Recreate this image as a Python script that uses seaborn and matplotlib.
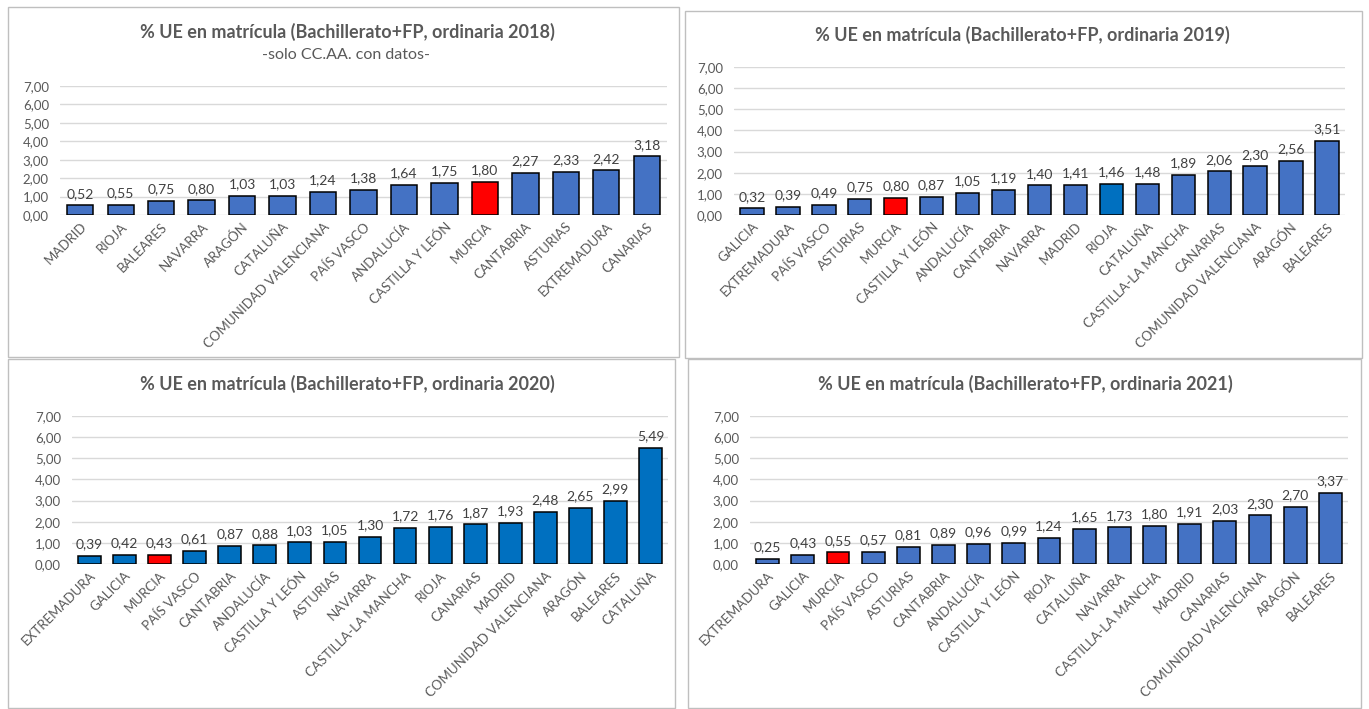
import matplotlib
matplotlib.use("Agg")
import matplotlib.pyplot as plt
import seaborn as sns
import pandas as pd
from matplotlib.patches import Rectangle

regions_2018 = ["MADRID", "RIOJA", "BALEARES", "NAVARRA", "ARAGÓN", "CATALUÑA",
                "COMUNIDAD VALENCIANA", "PAÍS VASCO", "ANDALUCÍA", "CASTILLA Y LEÓN",
                "MURCIA", "CANTABRIA", "ASTURIAS", "EXTREMADURA", "CANARIAS"]
values_2018 = [0.52, 0.55, 0.75, 0.80, 1.03, 1.03, 1.24, 1.38, 1.64, 1.75,
               1.80, 2.27, 2.33, 2.42, 3.18]

regions_2019 = ["GALICIA", "EXTREMADURA", "PAÍS VASCO", "ASTURIAS", "MURCIA",
                "CASTILLA Y LEÓN", "ANDALUCÍA", "CANTABRIA", "NAVARRA", "MADRID",
                "RIOJA", "CATALUÑA", "CASTILLA-LA MANCHA", "CANARIAS",
                "COMUNIDAD VALENCIANA", "ARAGÓN", "BALEARES"]
values_2019 = [0.32, 0.39, 0.49, 0.75, 0.80, 0.87, 1.05, 1.19, 1.40, 1.41,
               1.46, 1.48, 1.89, 2.06, 2.30, 2.56, 3.51]

regions_2020 = ["EXTREMADURA", "GALICIA", "MURCIA", "PAÍS VASCO", "CANTABRIA",
                "ANDALUCÍA", "CASTILLA Y LEÓN", "ASTURIAS", "NAVARRA",
                "CASTILLA-LA MANCHA", "RIOJA", "CANARIAS", "MADRID",
                "COMUNIDAD VALENCIANA", "ARAGÓN", "BALEARES", "CATALUÑA"]
values_2020 = [0.39, 0.42, 0.43, 0.61, 0.87, 0.88, 1.03, 1.05, 1.30, 1.72,
               1.76, 1.87, 1.93, 2.48, 2.65, 2.99, 5.49]

regions_2021 = ["EXTREMADURA", "GALICIA", "MURCIA", "PAÍS VASCO", "ASTURIAS",
                "CANTABRIA", "ANDALUCÍA", "CASTILLA Y LEÓN", "RIOJA", "CATALUÑA",
                "NAVARRA", "CASTILLA-LA MANCHA", "MADRID", "CANARIAS",
                "COMUNIDAD VALENCIANA", "ARAGÓN", "BALEARES"]
values_2021 = [0.25, 0.43, 0.55, 0.57, 0.81, 0.89, 0.96, 0.99, 1.24, 1.65,
               1.73, 1.80, 1.91, 2.03, 2.30, 2.70, 3.37]

y_ticks = [0, 1, 2, 3, 4, 5, 6, 7]

BLUE = "#4472C4"
BLUE2 = "#0070C0"
RED = "#FF0000"
TXT = "#595959"

sns.set_style("white")
plt.rcParams['font.family'] = ['Lato', 'DejaVu Sans']

W, H = 1369, 709
fig = plt.figure(figsize=(W / 100, H / 100), dpi=100)


def px_axes(x0, y0, x1, y1):
    # pixel box (top-left origin) -> figure axes
    return fig.add_axes([x0 / W, 1 - y1 / H, (x1 - x0) / W, (y1 - y0) / H])


def comma(v):
    return f"{v:.2f}".replace(".", ",")


def panel_box(x0, y0, x1, y1):
    fig.add_artist(Rectangle((x0 / W, 1 - y1 / H), (x1 - x0) / W, (y1 - y0) / H,
                             transform=fig.transFigure, fill=False,
                             edgecolor="#BFBFBF", linewidth=1))


def bar_chart(ax, regions, values, base, extra=None):
    colors = []
    for r in regions:
        if r == "MURCIA":
            colors.append(RED)
        elif extra and r in extra:
            colors.append(extra[r])
        else:
            colors.append(base)
    df = pd.DataFrame({"region": regions, "valor": values})
    sns.barplot(data=df, x="region", y="valor", hue="region", palette=colors,
                legend=False, width=0.65, edgecolor="black", linewidth=1.1,
                saturation=1, ax=ax)
    for c in ax.containers:
        ax.bar_label(c, fmt=comma, padding=4, fontsize=10, color="#404040")
    ax.set_ylim(0, 7)
    ax.set_yticks(y_ticks)
    ax.set_yticklabels([comma(v) for v in y_ticks], fontsize=9.5, color=TXT)
    ax.set_xlim(-0.5, len(regions) - 0.5)
    ax.set_xlabel("")
    ax.set_ylabel("")
    ax.yaxis.grid(True, color="#D9D9D9", linewidth=1)
    ax.set_axisbelow(True)
    sns.despine(ax=ax, left=True, bottom=True)
    ax.tick_params(axis="both", length=0)
    ax.tick_params(axis="y", pad=8)
    ax.tick_params(axis="x", pad=4)
    plt.setp(ax.get_xticklabels(), rotation=45, ha="right", va="top",
             rotation_mode="anchor", fontsize=9.5, color=TXT)


def title(x, y, text):
    fig.text(x / W, 1 - y / H, text, ha="center", va="center",
             fontsize=13, fontweight="bold", color=TXT)


panel_box(8, 7, 679, 357)
panel_box(685, 11, 1362, 358)
panel_box(8, 359, 675, 708)
panel_box(688, 359, 1361, 708)

ax1 = px_axes(60, 86, 667, 215)
bar_chart(ax1, regions_2018, values_2018, BLUE)
title(347, 32, "% UE en matrícula (Bachillerato+FP, ordinaria 2018)")
fig.text(346 / W, 1 - 55 / H, "-solo CC.AA. con datos-",
         ha="center", va="center", fontsize=11.5, color=TXT)

ax2 = px_axes(734, 67, 1345, 215)
bar_chart(ax2, regions_2019, values_2019, BLUE, extra={"RIOJA": BLUE2})
title(1022, 35, "% UE en matrícula (Bachillerato+FP, ordinaria 2019)")

ax3 = px_axes(72, 416, 668, 564)
bar_chart(ax3, regions_2020, values_2020, BLUE2)
title(347, 384, "% UE en matrícula (Bachillerato+FP, ordinaria 2020)")

ax4 = px_axes(750, 416, 1348, 564)
bar_chart(ax4, regions_2021, values_2021, BLUE)
title(1025, 384, "% UE en matrícula (Bachillerato+FP, ordinaria 2021)")

plt.savefig("out.png", dpi=100)
